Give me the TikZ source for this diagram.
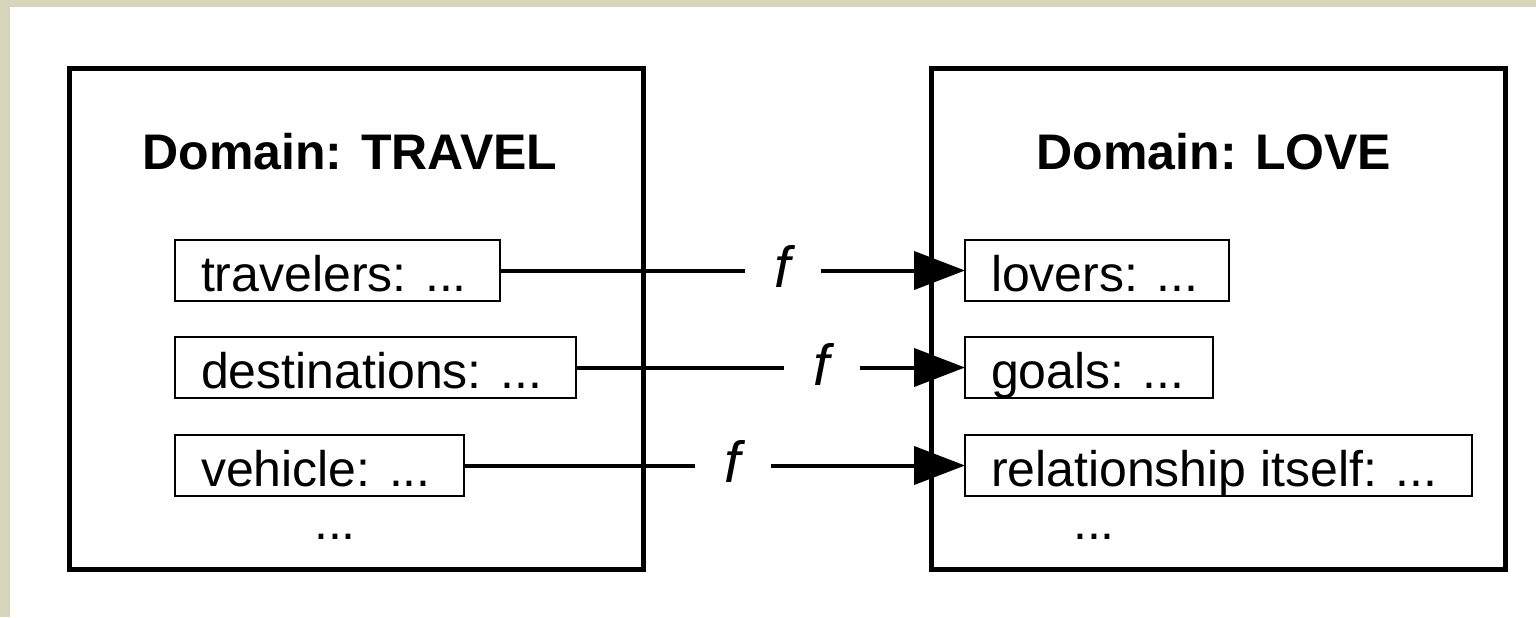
\documentclass[tikz,border=0pt]{standalone}
\usepackage{fontspec}
\setmainfont{Liberation Sans}
\usetikzlibrary{arrows.meta}
\definecolor{beige}{RGB}{214,212,186}
\newcommand{\itemtext}[2]{\makebox[#1][l]{#2}}
\begin{document}
\begin{tikzpicture}[x=0.5pt,y=-0.5pt,
  domainbox/.style={draw, line width=2.5pt, outer sep=0pt, inner sep=0pt, anchor=north west},
  itembox/.style={draw, line width=1pt, outer sep=0pt, inner xsep=13pt, inner ysep=0pt,
    text height=25.5pt, text depth=5pt, anchor=north west,
    font=\fontsize{25}{30}\selectfont},
  titletext/.style={anchor=base, inner sep=0pt, font=\bfseries\fontsize{25}{30}\selectfont},
  flabel/.style={inner xsep=15pt, inner ysep=0pt, font=\itshape\fontsize{29}{34}\selectfont},
  link/.style={line width=2pt},
  arrowlink/.style={line width=2pt, -{Triangle[length=25.5pt,width=19pt]}},
  ellip/.style={anchor=base, inner sep=0pt, font=\fontsize{25}{30}\selectfont}
]
% background and margins
\fill[white] (0,0) rectangle (1536,617);
\fill[beige] (0,0) rectangle (1536,7);
\fill[beige] (0,0) rectangle (10,617);
\useasboundingbox (0,0) rectangle (1536,617);

% domain boxes
\node[domainbox, minimum width=286.75pt, minimum height=250.5pt] (travel) at (69.5,68) {};
\node[domainbox, minimum width=287pt, minimum height=250.5pt] (love) at (931,68) {};

% titles
\node[titletext] (ttravel) at (350,169) {Domain: TRAVEL};
\node[titletext] (tlove) at (1214,169) {Domain: LOVE};

% source items
\node[itembox] (trav) at (175,240) {\itemtext{136.5pt}{travelers: ...}};
\node[itembox] (dest) at (175,337) {\itemtext{174.5pt}{destinations: ...}};
\node[itembox] (veh) at (175,435) {\itemtext{118.5pt}{vehicle: ...}};

% target items
\node[itembox] (lov) at (965,240) {\itemtext{106pt}{lovers: ...}};
\node[itembox] (goal) at (965,337) {\itemtext{98pt}{goals: ...}};
\node[itembox] (rel) at (965,435) {\itemtext{227.5pt}{relationship itself: ...}};

% ellipses
\node[ellip] (ldots) at (335,539) {...};
\node[ellip] (rdots) at (1094,539) {...};

% mapping labels
\node[flabel] (f1) at (783,266.5) {f};
\node[flabel] (f2) at (822,364) {f};
\node[flabel] (f3) at (733,461.5) {f};

% connectors
\draw[link] (trav.east) -- (trav.east -| f1.west);
\draw[arrowlink] (f1.east |- lov.west) -- (lov.west);
\draw[link] (dest.east) -- (dest.east -| f2.west);
\draw[arrowlink] (f2.east |- goal.west) -- (goal.west);
\draw[link] (veh.east) -- (veh.east -| f3.west);
\draw[arrowlink] (f3.east |- rel.west) -- (rel.west);
\end{tikzpicture}
\end{document}
